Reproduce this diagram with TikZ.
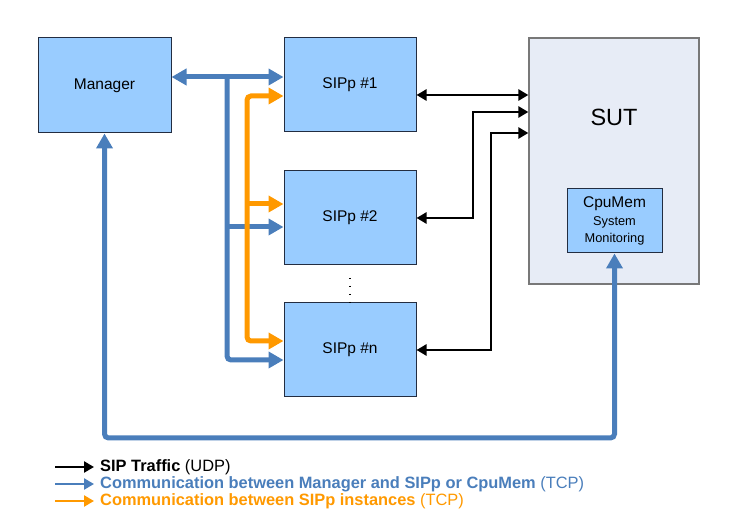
\documentclass[tikz,border=0pt]{standalone}
\usepackage{fontspec}
\setmainfont{Liberation Sans}
\usetikzlibrary{arrows.meta,calc}
\definecolor{boxblue}{RGB}{153,204,255}
\definecolor{sutgray}{RGB}{231,236,246}
\definecolor{suteline}{RGB}{120,120,120}
\definecolor{boxline}{RGB}{35,45,65}
\definecolor{tcpblue}{RGB}{74,126,187}
\definecolor{tcporange}{RGB}{255,153,0}
\newcommand*{\monfont}{\fontsize{12.8}{15}\selectfont}
\tikzset{>={Triangle[length=15pt,width=16pt]},
  box/.style={draw=boxline,fill=boxblue,line width=1pt,inner sep=0pt,
    minimum width=132pt,minimum height=94pt,font=\fontsize{15.5}{18}\selectfont},
  mgrline/.style={draw=tcpblue,line width=5pt,rounded corners=4pt},
  instline/.style={draw=tcporange,line width=5pt,rounded corners=4pt},
  udpline/.style={line width=2.5pt,
    {Triangle[length=10pt,width=11pt]}-{Triangle[length=10pt,width=11pt]}},
  legline/.style={line width=2.5pt,-{Triangle[length=10pt,width=11pt]}},
  legtext/.style={anchor=west,inner sep=0pt,font=\fontsize{16.4}{18}\selectfont}}

\begin{document}
\begin{tikzpicture}[x=1pt,y=-1pt]
\useasboundingbox (0,0) rectangle (737,529);
\node[box,minimum width=133pt,minimum height=95pt] (manager) at (104.5,85.5) {Manager};
\node[box] (sipp1) at (350,85) {SIPp \#1};
\node[box] (sipp2) at (350,217.5) {SIPp \#2};
\node[box] (sippn) at (350,350) {SIPp \#n};
\node[draw=suteline,fill=sutgray,line width=1.2pt,minimum width=170pt,minimum height=246pt] (sut) at (614,161) {};
\node[font=\fontsize{23.5}{26}\selectfont] (sutname) at (614,117) {SUT};
\node[box,minimum width=95pt,minimum height=64pt,align=center,
  font=\fontsize{15.5}{16}\selectfont] (cpumem) at (614.5,221)
  {CpuMem\\[1.5pt]\monfont System\\[1pt]\monfont Monitoring};
\draw[line width=1.3pt,dash pattern=on 1.3pt off 6.7pt] ($(sipp2.south)+(0,13)$) -- (sippn.north);
\coordinate (mtop) at (227,77);
\coordinate (bottom) at (0,438);
\draw[mgrline,<->] (manager.east |- mtop) -- (sipp1.west |- mtop);
\draw[mgrline,->] (mtop) |- ($(sippn.west)+(0,10)$);
\draw[mgrline,->] ($(sipp2.west)+(-57,9.5)$) -- ($(sipp2.west)+(0,9.5)$);
\draw[instline,<->] ($(sipp1.west)+(0,11)$) -| (247,341) -- ($(sippn.west)+(0,-9)$);
\draw[instline,->] ($(sipp2.west)+(-37,-13.5)$) -- ($(sipp2.west)+(0,-13.5)$);
\draw[udpline] ($(sipp1.east)+(0,10)$) -- ($(sut.west)+(0,-66)$);
\draw[udpline] ($(sipp2.east)+(0,0.5)$) -| (473,112) -- ($(sut.west)+(0,-49)$);
\draw[udpline] (sippn.east) -| (491,133) -- ($(sut.west)+(0,-28)$);
\draw[mgrline,<->] (manager.south) -- (manager.south |- bottom)
  -- (cpumem.south |- bottom) -- (cpumem.south);
\foreach \y/\name/\col/\main/\proto in {467/legudp/black/SIP Traffic/UDP,
  484/legmgr/tcpblue/Communication between Manager and SIPp or CpuMem/TCP,
  501/leginst/tcporange/Communication between SIPp instances/TCP} {
  \node[legtext,text=\col] (\name) at (100,\y) {\textbf{\main} (\proto)};
  \draw[legline,draw=\col,fill=\col] (55,\y) -- ($(\name.west)+(-6,0)$);
}
\end{tikzpicture}
\end{document}
